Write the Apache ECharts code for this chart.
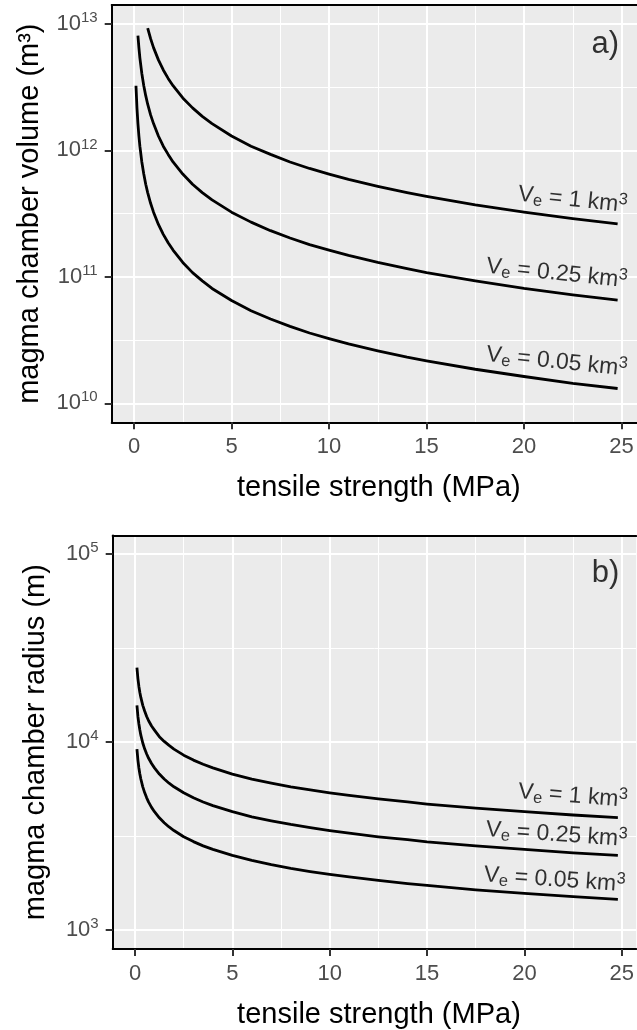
<!DOCTYPE html>
<html><head><meta charset="utf-8">
<script src="https://cdn.jsdelivr.net/npm/echarts@6/dist/echarts.min.js"></script>
<style>html,body{margin:0;padding:0;background:#fff;overflow:hidden}#c{width:637px;height:1030px}</style>
</head><body><div id="c"></div>
<script>
// ---- data ----
const tensile   = [0.1, 0.15, 0.2, 0.25, 0.3, 0.4, 0.5, 0.6, 0.7, 0.85, 1, 1.25, 1.5, 1.75, 2, 2.5, 3, 3.5, 4, 5, 6, 7, 8, 9, 10, 11, 12.5, 14, 15, 17.5, 20, 22.5, 24.8];
const volume1   = [null, null, null, null, null, null, null, null,
  9.29e12, 7.65e12, 6.5e12, 5.2e12, 4.33e12, 3.71e12, 3.25e12, 2.6e12, 2.17e12, 1.86e12, 1.63e12, 1.3e12, 1.08e12, 9.3e11, 8.1e11, 7.2e11, 6.5e11, 5.9e11, 5.2e11, 4.64e11, 4.33e11, 3.71e11, 3.25e11, 2.89e11, 2.62e11];
const volume025 = [null, null,
  8.1e12, 6.5e12, 5.4e12, 4.06e12, 3.25e12, 2.71e12, 2.32e12, 1.91e12, 1.63e12, 1.3e12, 1.08e12, 9.3e11, 8.1e11, 6.5e11, 5.4e11, 4.64e11, 4.06e11, 3.25e11, 2.71e11, 2.32e11, 2.03e11, 1.8e11, 1.63e11, 1.48e11, 1.3e11, 1.16e11, 1.08e11, 9.3e10, 8.1e10, 7.2e10, 6.55e10];
const volume005 = [3.25e12, 2.17e12, 1.63e12, 1.3e12, 1.08e12, 8.1e11, 6.5e11, 5.4e11, 4.64e11, 3.82e11, 3.25e11, 2.6e11, 2.17e11, 1.86e11, 1.63e11, 1.3e11, 1.08e11, 9.3e10, 8.1e10, 6.5e10, 5.4e10, 4.64e10, 4.06e10, 3.6e10, 3.25e10, 2.95e10, 2.6e10, 2.32e10, 2.17e10, 1.86e10, 1.63e10, 1.44e10, 1.31e10];
const radius1   = [24900, 21800, 19800, 18400, 17300, 15700, 14600, 13700, 13000, 12200, 11600, 10700, 10100, 9610, 9190, 8530, 8030, 7630, 7300, 6770, 6370, 6060, 5790, 5570, 5380, 5210, 4990, 4810, 4690, 4460, 4270, 4100, 3970];
const radius025 = [15700, 13700, 12500, 11600, 10900, 9900, 9190, 8650, 8210, 7700, 7300, 6770, 6370, 6050, 5790, 5380, 5060, 4810, 4600, 4270, 4010, 3820, 3650, 3510, 3390, 3280, 3140, 3030, 2950, 2810, 2690, 2580, 2500];
const radius005 = [9190, 8030, 7290, 6770, 6370, 5790, 5380, 5060, 4800, 4500, 4270, 3960, 3730, 3540, 3390, 3140, 2960, 2810, 2690, 2500, 2350, 2230, 2130, 2050, 1980, 1920, 1840, 1770, 1730, 1640, 1570, 1510, 1460];
const erupted   = ['1', '0.25', '0.05'];
const xTicks    = [0, 5, 10, 15, 20, 25];
const xMinor    = [2.5, 7.5, 12.5, 17.5, 22.5];
const volTicks  = [1e10, 1e11, 1e12, 1e13];
const volMinor  = [Math.pow(10, 10.5), Math.pow(10, 11.5), Math.pow(10, 12.5)];
const radTicks  = [1e3, 1e4, 1e5];
const radMinor  = [Math.pow(10, 3.5), Math.pow(10, 4.5)];
const panelTags = ['a)', 'b)'];

// ---- layout / style ----
const FONT = 'Liberation Sans, Arial, Helvetica, sans-serif';
const UNIT = 19.5;              // px per MPa
const X_MIN = -1.145;
const G0 = {left: 111.7, top: 5, height: 417.3};
const G1 = {left: 112.7, top: 535.4, height: 416.2};
const X_MAX0 = X_MIN + (637 - G0.left) / UNIT;
const X_MAX1 = X_MIN + (637 - G1.left) / UNIT;
const VOL_MIN = Math.pow(10, 9.85), VOL_MAX = Math.pow(10, 13.15);
const RAD_MIN = Math.pow(10, 2.9), RAD_MAX = Math.pow(10, 5.1);
// label anchors [x, y, rotation]
const volLabelAt = [[25.3, 3.66e11, -6], [25.3, 9.29e10, -6], [25.3, 1.86e10, -6]];
const radLabelAt = [[25.3, 4910, -4.5], [25.28, 3033, -4], [25.18, 1744, -4]];
const tagAt = [[24.87, Math.pow(10, 12.84)], [24.87, Math.pow(10, 4.9)]];

const pair = (xs, ys) => xs.map((x, i) => [x, ys[i]]).filter(d => d[1] != null);
const supLabel = v => '{b|10}{s|' + Math.round(Math.log10(v)) + '}';
const tickRich = {
  b: {fontSize: 22, color: '#4D4D4D', fontFamily: FONT},
  s: {fontSize: 15, color: '#4D4D4D', fontFamily: FONT, padding: [0, 0, 12, 0]}
};

function xMain(grid, xmax) {
  return {
    type: 'value', gridIndex: grid, min: X_MIN, max: xmax, position: 'bottom',
    name: 'tensile strength (MPa)', nameLocation: 'middle', nameGap: 51,
    nameTextStyle: {fontSize: 29, color: '#000', fontFamily: FONT, padding: [0, 0, 0, 9]},
    axisLine: {show: true, onZero: false, lineStyle: {color: '#000', width: 2}},
    axisTick: {show: true, customValues: xTicks, length: 7, lineStyle: {color: '#333', width: 2}},
    axisLabel: {show: true, customValues: xTicks, margin: 14, fontSize: 22, color: '#4D4D4D', fontFamily: FONT},
    splitLine: {show: true, lineStyle: {color: '#fff', width: 2}}
  };
}
function xMinorAxis(grid, xmax) {
  return {
    type: 'value', gridIndex: grid, min: X_MIN, max: xmax, position: 'top',
    axisLine: {show: true, onZero: false, lineStyle: {color: '#000', width: 2}},
    axisTick: {show: false, customValues: xMinor},
    axisLabel: {show: false, customValues: xMinor},
    splitLine: {show: true, lineStyle: {color: '#fff', width: 1}}
  };
}
function yMain(grid, mn, mx, ticks, name, gap) {
  return {
    type: 'log', logBase: 10, gridIndex: grid, min: mn, max: mx, position: 'left',
    name: name, nameLocation: 'middle', nameGap: gap, nameRotate: 90,
    nameTextStyle: {fontSize: 29, color: '#000', fontFamily: FONT},
    axisLine: {show: true, onZero: false, lineStyle: {color: '#000', width: 2}},
    axisTick: {show: true, customValues: ticks, length: 7, lineStyle: {color: '#333', width: 2}},
    axisLabel: {show: true, customValues: ticks, margin: 14, formatter: supLabel, rich: tickRich,
                fontSize: 22, color: '#4D4D4D', fontFamily: FONT},
    splitLine: {show: true, lineStyle: {color: '#fff', width: 2}}
  };
}
function yMinorAxis(grid, mn, mx, minor) {
  return {
    type: 'log', logBase: 10, gridIndex: grid, min: mn, max: mx, position: 'right',
    axisLine: {show: false, onZero: false},
    axisTick: {show: false, customValues: minor},
    axisLabel: {show: false, customValues: minor},
    splitLine: {show: true, lineStyle: {color: '#fff', width: 1}}
  };
}
function curve(xi, yi, ys) {
  return {
    type: 'line', xAxisIndex: xi, yAxisIndex: yi, data: pair(tensile, ys),
    showSymbol: false, symbol: 'none', smooth: false,
    lineStyle: {color: '#000', width: 2.8, join: 'round'}, z: 3, silent: true
  };
}
const labelRich = {
  v: {fontSize: 23, color: '#000', fontFamily: FONT},
  e: {fontSize: 16.5, color: '#000', fontFamily: FONT, padding: [10, 0, 0, 0]},
  t: {fontSize: 23, color: '#000', fontFamily: FONT},
  s: {fontSize: 16.5, color: '#000', fontFamily: FONT, padding: [0, 0, 11, 0]}
};
function curveLabels(xi, yi, anchors) {
  return {
    type: 'scatter', xAxisIndex: xi, yAxisIndex: yi, symbolSize: 1, silent: true, z: 6,
    itemStyle: {color: 'rgba(0,0,0,0)'},
    data: anchors.map((a, i) => ({
      value: [a[0], a[1]],
      label: {rotate: a[2], formatter: '{v|V}{e|e}{t| = ' + erupted[i] + ' km}{s|3}'}
    })),
    label: {show: true, position: 'inside', align: 'right', verticalAlign: 'middle', rich: labelRich}
  };
}
function tag(xi, yi, i) {
  return {
    type: 'scatter', xAxisIndex: xi, yAxisIndex: yi, symbolSize: 1, silent: true, z: 6,
    itemStyle: {color: 'rgba(0,0,0,0)'},
    data: [[tagAt[i][0], tagAt[i][1]]],
    label: {show: true, position: 'inside', align: 'right', verticalAlign: 'middle',
            formatter: panelTags[i], fontSize: 31, color: '#000', fontFamily: FONT}
  };
}

const chart = echarts.init(document.getElementById('c'), null, {renderer: 'canvas'});
chart.setOption({
  animation: false,
  backgroundColor: '#fff',
  grid: [
    {left: G0.left, top: G0.top, width: 637 - G0.left, height: G0.height, show: true, backgroundColor: '#EBEBEB', borderWidth: 0},
    {left: G1.left, top: G1.top, width: 637 - G1.left, height: G1.height, show: true, backgroundColor: '#EBEBEB', borderWidth: 0}
  ],
  xAxis: [xMain(0, X_MAX0), xMinorAxis(0, X_MAX0), xMain(1, X_MAX1), xMinorAxis(1, X_MAX1)],
  yAxis: [
    yMain(0, VOL_MIN, VOL_MAX, volTicks, 'magma chamber volume (m³)', 67),
    yMinorAxis(0, VOL_MIN, VOL_MAX, volMinor),
    yMain(1, RAD_MIN, RAD_MAX, radTicks, 'magma chamber radius (m)', 62),
    yMinorAxis(1, RAD_MIN, RAD_MAX, radMinor)
  ],
  series: [
    curve(0, 0, volume1), curve(0, 0, volume025), curve(0, 0, volume005),
    curve(2, 2, radius1), curve(2, 2, radius025), curve(2, 2, radius005),
    curveLabels(0, 0, volLabelAt), curveLabels(2, 2, radLabelAt),
    tag(0, 0, 0), tag(2, 2, 1)
  ]
});
</script></body></html>
